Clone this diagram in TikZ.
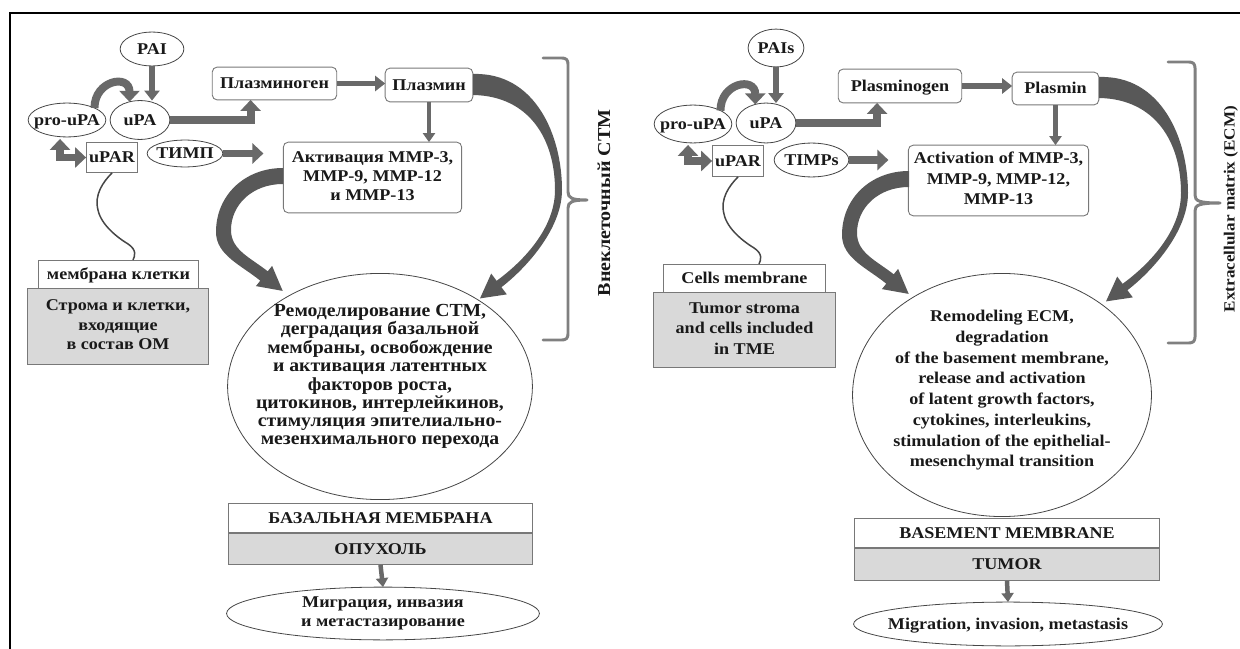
\documentclass[tikz,border=0pt]{standalone}
\usepackage{fontspec}
\setmainfont{Liberation Serif}[FakeStretch=1.1]
\newfontfamily\widefont{Liberation Serif}[FakeStretch=1.07]
\usetikzlibrary{shapes.geometric,arrows.meta,calc}
\definecolor{txt}{RGB}{25,25,25}
\definecolor{bord}{RGB}{120,120,120}
\definecolor{ellb}{RGB}{70,70,70}
\definecolor{grayfill}{RGB}{217,217,217}
\definecolor{arr}{RGB}{105,105,105}
\definecolor{bigarr}{RGB}{88,88,88}
\definecolor{brc}{RGB}{128,128,128}
\newcommand\dgf[1]{\fontsize{16.5}{#1}\selectfont\bfseries}
\newcommand\zl[1]{\raisebox{-0.33em}[0pt][0pt]{\makebox[0pt]{#1}}}
\newcommand\zm[2][0pt]{\raisebox{\dimexpr-0.25em+#1\relax}[0pt][0pt]{\makebox[0pt]{\begin{tabular}{@{}c@{}}#2\end{tabular}}}}
\newcommand\curvedarrows{%
  \fill[bigarr] (473,74) .. controls (535,72) and (562,135) .. (562,190)
     .. controls (562,230) and (524,270) .. (501.4,287.2) -- (506.8,294.4) -- (480,298.4)
     -- (491.2,273.6) -- (496.6,280.8) .. controls (517,266) and (555,232) .. (555,190)
     .. controls (555,140) and (530,96) .. (473,95) -- cycle;
  \fill[bigarr] (283,168) .. controls (245,168) and (216,195) .. (216,232)
     .. controls (216,255) and (241,265) .. (260.3,280.7) -- (255.9,286.1) -- (282.7,290.9)
     -- (272.1,265.9) -- (267.7,271.3) .. controls (250.5,257.7) and (231,250) .. (231,230)
     .. controls (231,205) and (252,184) .. (283,184) -- cycle;
}
\tikzset{
  dgbase/.style={inner sep=0pt, outer sep=0pt, text=txt, font=\dgf{19.5}},
  ell/.style={dgbase, ellipse, draw=ellb, line width=0.8pt, fill=white},
  rbox/.style={dgbase, rectangle, rounded corners=5pt, draw=bord, line width=0.9pt, fill=white},
  sbox/.style={dgbase, rectangle, draw=bord, line width=0.9pt, fill=white},
  gbox/.style={sbox, fill=grayfill},
  fatarrow/.style={draw=arr, line width=8pt, -{Triangle[width=20pt,length=11pt]}},
  dblarrow/.style={draw=arr, line width=8pt, {Triangle[width=20pt,length=11pt]}-{Triangle[width=20pt,length=11pt]}},
  midarrow/.style={draw=arr, line width=5.5pt, -{Triangle[width=15pt,length=10pt]}},
  slimarrow/.style={draw=arr, line width=4.5pt, -{Triangle[width=12pt,length=9pt]}},
  wave/.style={draw=ellb, line width=1.5pt},
  bracestyle/.style={draw=brc, line width=3pt, line cap=round, line join=round},
  vlabel/.style={inner sep=0pt, text=txt, rotate=90},
}
\begin{document}
\begin{tikzpicture}[x=1bp, y=-1bp]
\useasboundingbox (0,0) rectangle (1240,649);
\draw[line width=1.3pt, black] (10,649) -- (10,13) -- (1240,13);

% ---------------- left panel ----------------
\node[ell, minimum width=64, minimum height=34] (paiL) at (152,49) {\zl{PAI}};
\node[ell, minimum width=60, minimum height=39] (upaL) at (140,120) {\zl{uPA}};
\node[ell, minimum width=78, minimum height=34] (proL) at (67,120) {\zl{pro-uPA}};
\node[sbox, minimum width=52, minimum height=31] (uparL) at (112,157.5) {\zl{uPAR}};
\node[ell, minimum width=76, minimum height=27] (timpL) at (185,153.5) {\zl{ТИМП}};
\node[rbox, minimum width=125, minimum height=33] (plgL) at (274.5,83.5) {\zl{Плазминоген}};
\node[rbox, minimum width=88, minimum height=34] (plsL) at (429,85) {\zl{Плазмин}};
\node[rbox, minimum width=179, minimum height=71, font=\dgf{19}] (actL) at (372.5,177.5) {\zm{Активация MMP-3,\\ MMP-9, MMP-12\\ и MMP-13}};
\node[sbox, minimum width=161, minimum height=28] (memL) at (118.5,274) {\zl{мембрана клетки}};
\node[gbox, minimum width=182, minimum height=77] (strL) at (118,326.5) {\zm{Строма и клетки,\\ входящие\\ в состав ОМ}};
\node[ell, minimum width=306, minimum height=227, font=\widefont\fontsize{18.5}{18.3}\selectfont\bfseries] (remL) at (380,386.5) {\zm[10pt]{Ремоделирование СТМ,\\ деградация базальной\\ мембраны, освобождение\\ и активация латентных\\ факторов роста,\\ цитокинов, интерлейкинов,\\ стимуляция эпителиально-\\ мезенхимального перехода}};
\node[sbox, minimum width=305, minimum height=30] (basL) at (380.5,518) {\zl{БАЗАЛЬНАЯ МЕМБРАНА}};
\node[gbox, minimum width=305, minimum height=32] (tumL) at (380.5,549) {\zl{ОПУХОЛЬ}};
\node[ell, minimum width=314, minimum height=53, font=\dgf{19}] (migL) at (383,613.5) {\zm{Миграция, инвазия\\ и метастазирование}};
\node[vlabel, font=\fontsize{18.3}{20}\selectfont\bfseries] (lblL) at (604,203) {Внеклеточный СТМ};

\draw[midarrow] (paiL.south) -- (paiL.south |- upaL.north);
\draw[fatarrow] (proL.north east) .. controls +(0,-28) and +(0,-28) .. (upaL.120);
\draw[fatarrow] (upaL.east) -| ([xshift=-24pt]plgL.south);
\draw[dblarrow] ([xshift=-7pt,yshift=-2pt]proL.south) |- (uparL.west);
\draw[fatarrow, shorten >=20pt] (timpL.east) -- (timpL.east -| actL.west);
\draw[midarrow] (plgL.east) -- (plgL.east -| plsL.west);
\draw[slimarrow] (plsL.south) -- (plsL.south |- actL.north);
\draw[slimarrow] (tumL.south) -- (migL.north);
\draw[wave, shift={(uparL.south)}] (0,0) .. controls (-9,9) and (-18,22) .. (-14,37)
   .. controls (-11,52) and (6,65) .. (16,71) .. controls (25,77) and (23,83) .. (21,87);
\curvedarrows
\draw[bracestyle] (543,58) -- (562,58) .. controls (566,58) and (568,60) .. (568,64) -- (568,192)
   .. controls (568,198) and (572,200) .. (587,200) .. controls (572,200) and (568,202) .. (568,208)
   -- (568,334) .. controls (568,338) and (566,340) .. (562,340) -- (543,340);

% ---------------- right panel ----------------
\node[ell, minimum width=56, minimum height=38] (paiR) at (776,48) {\zl{PAIs}};
\node[ell, minimum width=60, minimum height=40] (upaR) at (766,123) {\zl{uPA}};
\node[ell, minimum width=78, minimum height=38] (proR) at (693,124) {\zl{pro-uPA}};
\node[sbox, minimum width=52, minimum height=32] (uparR) at (738,161) {\zl{uPAR}};
\node[ell, minimum width=75, minimum height=34] (timpR) at (811.5,160) {\zl{TIMPs}};
\node[rbox, minimum width=124, minimum height=34] (plgR) at (900,86) {\zl{Plasminogen}};
\node[rbox, minimum width=87, minimum height=33] (plsR) at (1055.5,88.5) {\zl{Plasmin}};
\node[rbox, minimum width=181, minimum height=71, font=\dgf{20.5}] (actR) at (998.5,180.5) {\zm{Activation of MMP-3,\\ MMP-9, MMP-12,\\ MMP-13}};
\node[sbox, minimum width=163, minimum height=28] (memR) at (744.5,278) {\zl{Cells membrane}};
\node[gbox, minimum width=183, minimum height=76, font=\dgf{21}] (strR) at (744.5,330) {\zm{Tumor stroma\\ and cells included\\ in TME}};
\node[ell, minimum width=300, minimum height=244, font=\dgf{20.8}] (remR) at (1002,395) {\zm[4.7pt]{Remodeling ECM,\\ degradation\\ of the basement membrane,\\ release and activation\\ of latent growth factors,\\ cytokines, interleukins,\\ stimulation of the epithelial-\\ mesenchymal transition}};
\node[sbox, minimum width=306, minimum height=30] (basR) at (1007,533) {\zl{BASEMENT MEMBRANE}};
\node[gbox, minimum width=306, minimum height=33] (tumR) at (1007,564.5) {\zl{TUMOR}};
\node[ell, minimum width=310, minimum height=44] (migR) at (1008,624) {\zl{Migration, invasion, metastasis}};
\node[vlabel, font=\fontsize{15.6}{18}\selectfont\bfseries] (lblR) at (1231,209) {Extracellular matrix (ECM)};

\draw[midarrow] (paiR.south) -- (paiR.south |- upaR.north);
\draw[fatarrow] (proR.north east) .. controls +(0,-28) and +(0,-28) .. (upaR.120);
\draw[fatarrow] (upaR.east) -| ([xshift=-23pt]plgR.south);
\draw[dblarrow] ([xshift=-5pt,yshift=-2pt]proR.south) |- (uparR.west);
\draw[fatarrow, shorten >=20pt] (timpR.east) -- (timpR.east -| actR.west);
\draw[midarrow] (plgR.east) -- (plgR.east -| plsR.west);
\draw[slimarrow] (plsR.south) -- (plsR.south |- actR.north);
\draw[slimarrow] (tumR.south) -- (migR.north);
\draw[wave, shift={(uparR.south)}] (0,0) .. controls (-9,9) and (-18,22) .. (-14,37)
   .. controls (-11,52) and (6,65) .. (16,71) .. controls (25,77) and (23,83) .. (21,87);
\begin{scope}[shift={(626,3)}]
\curvedarrows
\end{scope}
\draw[bracestyle] (1168,62) -- (1189,62) .. controls (1193,62) and (1195,64) .. (1195,68) -- (1195,195)
   .. controls (1195,201) and (1199,203) .. (1220,203) .. controls (1199,203) and (1195,205) .. (1195,211)
   -- (1195,337) .. controls (1195,341) and (1193,343) .. (1189,343) -- (1168,343);
\end{tikzpicture}
\end{document}
